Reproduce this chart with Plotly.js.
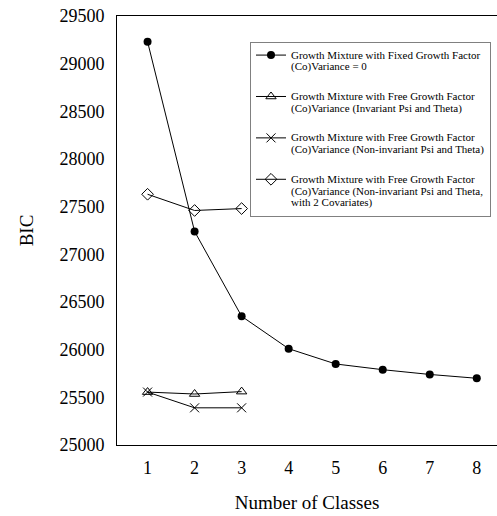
<!DOCTYPE html>
<html><head><meta charset="utf-8">
<script src="https://cdn.plot.ly/plotly-3.0.1.min.js"></script>
<style>body{margin:0;padding:0;background:#fff}</style>
</head><body>
<div id="chart" style="width:497px;height:516px"></div>
<script>
const classes = [1, 2, 3, 4, 5, 6, 7, 8];
const fixedBIC = [29230, 27240, 26350, 26010, 25850, 25790, 25740, 25700];
const invariantBIC = [25555, 25535, 25560];
const noninvariantBIC = [25555, 25390, 25390];
const covariatesBIC = [27630, 27460, 27480];
const seriesNames = [
  "Growth Mixture with Fixed Growth Factor<br>(Co)Variance = 0",
  "Growth Mixture with Free Growth Factor<br>(Co)Variance (Invariant Psi and Theta)",
  "Growth Mixture with Free Growth Factor<br>(Co)Variance (Non-invariant Psi and Theta)",
  "Growth Mixture with Free Growth Factor<br>(Co)Variance (Non-invariant Psi and Theta,<br>with 2 Covariates)"
];
const yTicks = [25000, 25500, 26000, 26500, 27000, 27500, 28000, 28500, 29000, 29500];

function wrap(s){ return s.split('<br>').map(t => '<span style="font-size:11px">' + t + '</span>').join('<br>'); }

const line = {color: '#000', width: 1};
const traces = [
  {x: classes, y: fixedBIC, name: wrap(seriesNames[0]), legendgroup: 'a', mode: 'lines+markers', line: line,
   marker: {symbol: 'circle', size: 8, color: '#000'}},
  {x: classes.slice(0, 3), y: invariantBIC, name: wrap(seriesNames[1]), legendgroup: 'b', mode: 'lines+markers', line: line,
   marker: {symbol: 'triangle-up-open', size: 9, color: '#000', line: {width: 1, color: '#000'}}},
  {x: classes.slice(0, 3), y: noninvariantBIC, name: wrap(seriesNames[2]), legendgroup: 'c', mode: 'lines+markers', line: line,
   marker: {symbol: 'x-thin-open', size: 9, color: '#000', line: {width: 1, color: '#000'}}},
  {x: classes.slice(0, 3), y: covariatesBIC, name: wrap(seriesNames[3]), legendgroup: 'd', mode: 'lines+markers', line: line,
   marker: {symbol: 'diamond-open', size: 9, color: '#000', line: {width: 1, color: '#000'}}}
];

const font = {family: '"Liberation Serif", "Times New Roman", serif', color: '#000'};
const layout = {
  width: 497, height: 516,
  margin: {l: 117, r: 0, t: 16, b: 71},
  paper_bgcolor: '#fff', plot_bgcolor: '#fff',
  font: font,
  showlegend: true,
  legend: {
    x: 0.35, y: 0.94, xanchor: 'left', yanchor: 'top',
    bordercolor: '#808080', borderwidth: 1, bgcolor: '#fff',
    font: Object.assign({}, font, {size: 9}),
    itemwidth: 30, tracegroupgap: 15, traceorder: 'grouped', valign: 'top'
  },
  xaxis: {
    range: [0.35, 8.43], tickmode: 'array', tickvals: classes, ticktext: classes.map(String),
    showgrid: false, zeroline: false, showline: true, linecolor: '#000', linewidth: 1, mirror: true,
    ticks: '', ticklabelstandoff: 6, automargin: false,
    tickfont: Object.assign({}, font, {size: 18}),
    title: {text: 'Number of Classes', font: Object.assign({}, font, {size: 19}), standoff: 19}
  },
  yaxis: {
    range: [25000, 29500], tickmode: 'array', tickvals: yTicks, ticktext: yTicks.map(String),
    showgrid: false, zeroline: false, showline: true, linecolor: '#000', linewidth: 1, mirror: false,
    ticks: '', ticklabelstandoff: 8, automargin: false,
    tickfont: Object.assign({}, font, {size: 18}),
    title: {text: 'BIC', font: Object.assign({}, font, {size: 19}), standoff: 20}
  }
};
Plotly.newPlot('chart', traces, layout, {displayModeBar: false, staticPlot: true});
</script>
</body></html>
